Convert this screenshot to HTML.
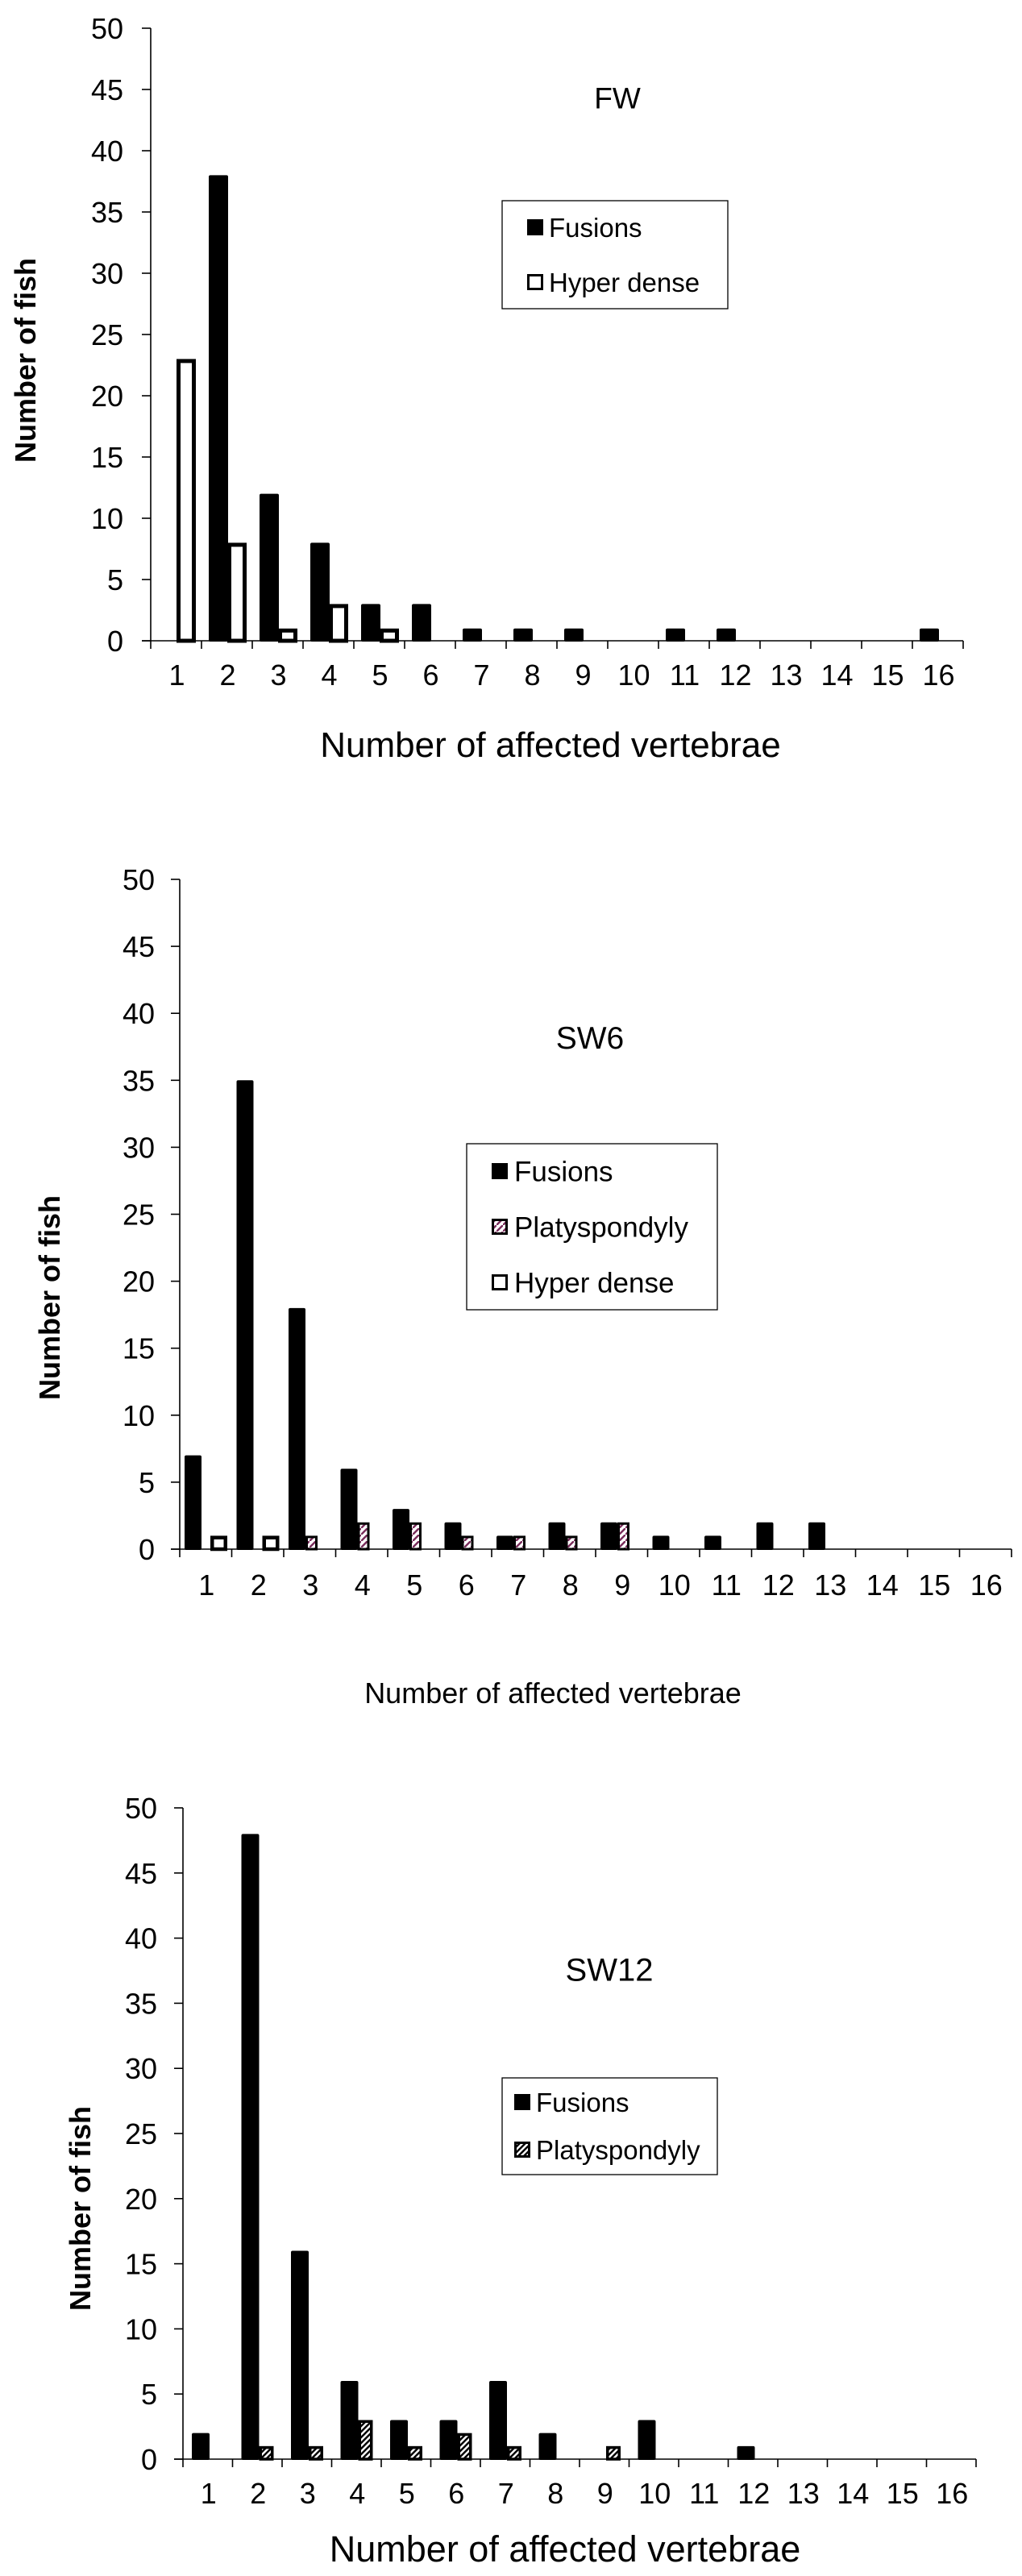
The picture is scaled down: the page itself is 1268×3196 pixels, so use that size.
<!DOCTYPE html>
<html><head><meta charset="utf-8">
<style>
html,body{margin:0;padding:0;background:#fff;}
svg{display:block;font-family:"Liberation Sans",Arial,sans-serif;}
</style></head>
<body>
<svg id="fig" width="1268" height="3196" viewBox="0 0 1268 3196" xmlns="http://www.w3.org/2000/svg">
<defs>
<pattern id="hatchMaroon" patternUnits="userSpaceOnUse" width="8" height="8">
<rect width="8" height="8" fill="#fff"/>
<path d="M0,8 L8,0" stroke="#7a2e5c" stroke-width="2.5"/>
</pattern>
<pattern id="hatchBlack" patternUnits="userSpaceOnUse" width="7" height="7">
<rect width="7" height="7" fill="#fff"/>
<path d="M0,7 L7,0 M-2,2 L2,-2 M5,9 L9,5" stroke="#000" stroke-width="2.5"/>
</pattern>
</defs>
</svg>
<script>
// ---- data ----
const categories = ["1","2","3","4","5","6","7","8","9","10","11","12","13","14","15","16"];
const yTicks = [0,5,10,15,20,25,30,35,40,45,50];
const fwFusions   = [0,38,12,8,3,3,1,1,1,0,1,1,0,0,0,1];
const fwHyper     = [23,8,1,3,1,0,0,0,0,0,0,0,0,0,0,0];
const sw6Fusions  = [7,35,18,6,3,2,1,2,2,1,1,2,2,0,0,0];
const sw6Platy    = [0,0,1,2,2,1,1,1,2,0,0,0,0,0,0,0];
const sw6Hyper    = [1,1,0,0,0,0,0,0,0,0,0,0,0,0,0,0];
const sw12Fusions = [2,48,16,6,3,3,6,2,0,3,0,1,0,0,0,0];
const sw12Platy   = [0,1,1,3,1,2,1,0,1,0,0,0,0,0,0,0];

const NS = "http://www.w3.org/2000/svg";
const svg = document.getElementById('fig');
function mk(tag, attrs, parent){
  const e = document.createElementNS(NS, tag);
  for (const k in attrs) e.setAttribute(k, attrs[k]);
  (parent||svg).appendChild(e);
  return e;
}

function drawChart(cfg, series){
  const g = mk('g', {});
  
  
  const yScale = v => cfg.y0 - (v/50)*(cfg.y0 - cfg.y50);
  const xCat = i => cfg.ax + i*cfg.w;
  const xEnd = xCat(categories.length);
  // y axis
  const ya = mk('line', {x1:cfg.ax, y1:cfg.y50, x2:cfg.ax, y2:cfg.y0, stroke:'#000','stroke-width':1.6}, g);
  
  
  yTicks.forEach(t => {
    const y = yScale(t);
    mk('line', {x1:cfg.ax-11, y1:y, x2:cfg.ax, y2:y, stroke:'#000','stroke-width':1.6}, g);
    const tx = mk('text', {x:cfg.ylabX, y:y+cfg.tickFs*0.36, 'text-anchor':'end','font-size':cfg.tickFs}, g);
    tx.textContent = t;
    
    
  });
  // x axis
  const xa = mk('line', {x1:cfg.ax-11, y1:cfg.y0, x2:xEnd, y2:cfg.y0, stroke:'#000','stroke-width':1.6}, g);
  
  
  for (let i=0;i<=categories.length;i++){
    mk('line', {x1:xCat(i), y1:cfg.y0, x2:xCat(i), y2:cfg.y0+10, stroke:'#000','stroke-width':1.6}, g);
  }
  categories.forEach((c,i) => {
    const tx = mk('text', {x:xCat(i)+cfg.w/2+1, y:cfg.xlabY+cfg.tickFs*0.36, 'text-anchor':'middle','font-size':cfg.tickFs}, g);
    tx.textContent = c;
    
    
  });
  // bars
  series.forEach(s => {
    s.values.forEach((v,i) => {
      if (v <= 0) return;
      const x = xCat(i) + s.off, yTop = yScale(v);
      let r;
      if (s.kind === 'solid'){
        r = mk('rect', {x:x, y:yTop, width:s.bw, height:cfg.y0 - yTop + 1, fill:'#000', rx:2}, g);
      } else {
        const sw = s.sw;
        r = mk('rect', {x:x+sw/2, y:yTop+sw/2, width:s.bw-sw, height:Math.max(cfg.y0 - yTop - sw/2, 1), fill:s.fill, stroke:'#000','stroke-width':sw}, g);
      }
      
      
    });
  });
  // titles
  const t = mk('text', {x:cfg.titleX, y:cfg.titleY + cfg.titleFs*0.36, 'text-anchor':'middle','font-size':cfg.titleFs}, g);
  t.textContent = cfg.title;
  
  
  const yt = mk('text', {x:0, y:0, 'text-anchor':'middle','font-size':36,'font-weight':'bold',
    transform:'translate('+(cfg.ytX+13)+','+cfg.ytY+') rotate(-90)'}, g);
  yt.textContent = 'Number of fish';
  
  
  const xt = mk('text', {x:cfg.xtX, y:cfg.xtY + cfg.xtFs*0.36, 'text-anchor':'middle','font-size':cfg.xtFs}, g);
  xt.textContent = 'Number of affected vertebrae';
  
  
  // legend
  const L = cfg.legend;
  const lg = mk('g', {}, g);
  
  
  mk('rect', {x:L.x, y:L.y, width:L.w, height:L.h, fill:'#fff', stroke:'#000','stroke-width':1.3}, lg);
  L.items.forEach((it, k) => {
    const cy = L.rows[k];
    const e = mk('g', {}, lg);
    
    
    if (it.kind === 'solid') mk('rect', {x:L.sx, y:cy-10, width:20, height:20, fill:'#000'}, e);
    else mk('rect', {x:L.sx+1.5, y:cy-8.5, width:17, height:17, fill:it.fill, stroke:'#000','stroke-width':3}, e);
    const tx = mk('text', {x:L.tx, y:cy + L.fs*0.36, 'font-size':L.fs}, e);
    tx.textContent = it.label;
  });
}

drawChart({name:'chart-fw', ax:187, w:63, y0:795, y50:35, ylabX:153, xlabY:837, tickFs:36,
  title:'FW', titleX:766, titleY:121, titleFs:37, ytX:31, ytY:447, xtX:683, xtY:923, xtFs:44,
  legend:{x:623, y:249, w:280, h:134, sx:654, tx:681, fs:33, rows:[282,350],
    items:[{key:'fusions',label:'Fusions',kind:'solid'},{key:'hyper-dense',label:'Hyper dense',kind:'out',fill:'#fff'}]}},
  [{key:'fusions', values:fwFusions, kind:'solid', off:9, bw:24},
   {key:'hyper-dense', values:fwHyper, kind:'out', fill:'#fff', sw:5, off:32, bw:24}]);

drawChart({name:'chart-sw6', ax:223, w:64.5, y0:1922, y50:1091, ylabX:192, xlabY:1966, tickFs:36,
  title:'SW6', titleX:732, titleY:1287, titleFs:39, ytX:61, ytY:1610, xtX:686, xtY:2100, xtFs:36,
  legend:{x:579, y:1419, w:311, h:206, sx:610, tx:638, fs:35, rows:[1453,1522,1591],
    items:[{key:'fusions',label:'Fusions',kind:'solid'},{key:'platyspondyly',label:'Platyspondyly',kind:'out',fill:'url(#hatchMaroon)'},{key:'hyper-dense',label:'Hyper dense',kind:'out',fill:'#fff'}]}},
  [{key:'fusions', values:sw6Fusions, kind:'solid', off:6, bw:21},
   {key:'platyspondyly', values:sw6Platy, kind:'out', fill:'url(#hatchMaroon)', sw:3, off:27, bw:15},
   {key:'hyper-dense', values:sw6Hyper, kind:'out', fill:'#fff', sw:4.5, off:38, bw:21}]);

drawChart({name:'chart-sw12', ax:227, w:61.5, y0:3051, y50:2243, ylabX:195, xlabY:3093, tickFs:36,
  title:'SW12', titleX:756, titleY:2443, titleFs:40, ytX:99, ytY:2740, xtX:701, xtY:3162, xtFs:45,
  legend:{x:623, y:2578, w:267, h:120, sx:638, tx:665, fs:33, rows:[2608,2667],
    items:[{key:'fusions',label:'Fusions',kind:'solid'},{key:'platyspondyly',label:'Platyspondyly',kind:'out',fill:'url(#hatchBlack)'}]}},
  [{key:'fusions', values:sw12Fusions, kind:'solid', off:11, bw:22},
   {key:'platyspondyly', values:sw12Platy, kind:'out', fill:'url(#hatchBlack)', sw:3.5, off:33, bw:18}]);
</script>
</body></html>
